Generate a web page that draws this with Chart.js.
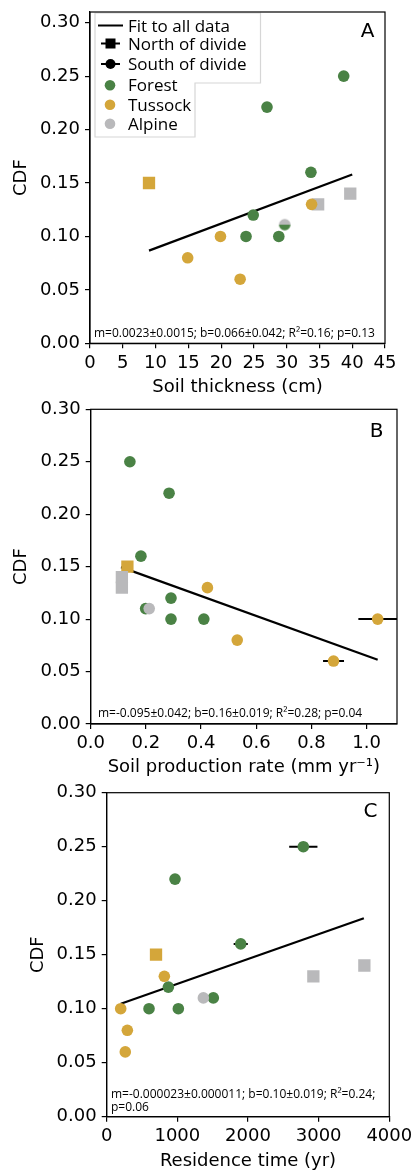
<!DOCTYPE html>
<html>
<head>
<meta charset="utf-8">
<title>CDF vs soil properties</title>
<script src="https://cdn.jsdelivr.net/npm/chart.js@4.4.1/dist/chart.umd.min.js"></script>
<style>
  html, body { margin: 0; padding: 0; background: #ffffff; }
  #wrap { position: relative; width: 414px; height: 1172px; overflow: hidden; }
  canvas { position: absolute; left: 0; display: block; }
</style>
</head>
<body>
<div id="wrap">
  <canvas id="panelA" width="414" height="400" style="top:0px"></canvas>
  <canvas id="panelB" width="414" height="390" style="top:395px"></canvas>
  <canvas id="panelC" width="414" height="392" style="top:780px"></canvas>
</div>
<script>
// ---------- Panel A: soil thickness (cm) ----------
const thickForestX      = [27.0, 38.7, 33.7, 24.9, 23.8, 28.8];
const thickForestY      = [0.221, 0.25, 0.16, 0.12, 0.10, 0.10];
const thickTussockX     = [14.9, 19.9, 22.9, 33.8];
const thickTussockY     = [0.08, 0.10, 0.06, 0.13];
const thickTussockNX    = [9.0];
const thickTussockNY    = [0.15];
const thickAlpineNX     = [34.8, 39.7];
const thickAlpineNY     = [0.13, 0.14];
const thickMixedX       = [29.7];      // forest / alpine site
const thickMixedY       = [0.111];
const thickFit          = [0.0023, 0.066];   // slope, intercept
const thickFitRange     = [9, 40];
const thickTicksX       = [0, 5, 10, 15, 20, 25, 30, 35, 40, 45];

// ---------- Panel B: soil production rate (mm/yr) ----------
const prodForestX       = [0.142, 0.284, 0.182, 0.291, 0.291, 0.410, 0.199];
const prodForestY       = [0.25, 0.22, 0.16, 0.12, 0.10, 0.10, 0.11];
const prodTussockX      = [0.423, 0.531, 0.880, 1.040];
const prodTussockY      = [0.13, 0.08, 0.06, 0.10];
const prodTussockErr    = [0, 0, 0.038, 0.07];
const prodTussockNX     = [0.133];
const prodTussockNY     = [0.15];
const prodAlpineNX      = [0.113, 0.113];
const prodAlpineNY      = [0.14, 0.13];
const prodAlpineX       = [0.212];
const prodAlpineY       = [0.11];
const prodFit           = [-0.095, 0.16];
const prodFitRange      = [0.11, 1.04];
const prodTicksX        = [0.0, 0.2, 0.4, 0.6, 0.8, 1.0];

// ---------- Panel C: residence time (yr) ----------
const resForestX        = [967, 2783, 1897, 873, 599, 1014, 1509];
const resForestY        = [0.22, 0.25, 0.16, 0.12, 0.10, 0.10, 0.11];
const resForestErr      = [0, 200, 100, 0, 0, 0, 0];
const resTussockX       = [198, 292, 263, 816];
const resTussockY       = [0.10, 0.08, 0.06, 0.13];
const resTussockNX      = [698];
const resTussockNY      = [0.15];
const resAlpineX        = [1368];
const resAlpineY        = [0.11];
const resAlpineNX       = [2925, 3647];
const resAlpineNY       = [0.13, 0.14];
const resFit            = [0.000023, 0.10];
const resFitRange       = [200, 3640];
const resTicksX         = [0, 1000, 2000, 3000, 4000];

const cdfTicks          = [0.00, 0.05, 0.10, 0.15, 0.20, 0.25, 0.30];

const fitTextA = ['m=0.0023\u00b10.0015; b=0.066\u00b10.042; R\u00b2=0.16; p=0.13'];
const fitTextB = ['m=-0.095\u00b10.042; b=0.16\u00b10.019; R\u00b2=0.28; p=0.04'];
const fitTextC = ['m=-0.000023\u00b10.000011; b=0.10\u00b10.019; R\u00b2=0.24;', 'p=0.06'];

const legendEntries = ['Fit to all data', 'North of divide', 'South of divide', 'Forest', 'Tussock', 'Alpine'];

// ---------- styling ----------
const GREEN = '#4a8245';
const GOLD  = '#d4a63a';
const GREY  = '#b9b9bb';
const TICK_FONT = { family: 'DejaVu Sans', size: 18 };
const LABEL_FONT = 'DejaVu Sans';
const NOTE_FONT = 'Open Sans';
const CIRCLE_R = 5.8;
const SQUARE_R = 8.7;   // rect pointStyle: side = r * sqrt(2)

function pts(xs, ys) { return xs.map((x, i) => ({ x: x, y: ys[i] })); }

function circles(xs, ys, color, err) {
  return { data: pts(xs, ys), pointStyle: 'circle', pointRadius: CIRCLE_R,
           backgroundColor: color, borderWidth: 0, xerr: err, order: 2 };
}
function squares(xs, ys, color) {
  return { data: pts(xs, ys), pointStyle: 'rect', pointRadius: SQUARE_R,
           backgroundColor: color, borderWidth: 0, order: 3 };
}
function fitLine(coef, range) {
  const data = range.map(x => ({ x: x, y: coef[0] * x + coef[1] }));
  return { type: 'line', data: data, borderColor: '#000', borderWidth: 2.2,
           pointRadius: 0, fill: false, order: 10 };
}

// Circle marker split horizontally: upper half / lower half colours
function splitMarker(r, topColor, bottomColor) {
  const c = document.createElement('canvas');
  const s = Math.ceil(2 * r + 2);
  c.width = s; c.height = s;
  const g = c.getContext('2d');
  const m = s / 2;
  g.fillStyle = topColor;
  g.beginPath(); g.arc(m, m, r, Math.PI, 2 * Math.PI); g.closePath(); g.fill();
  g.fillStyle = bottomColor;
  g.beginPath(); g.arc(m, m, r, 0, Math.PI); g.closePath(); g.fill();
  return c;
}

// Horizontal error bars drawn beneath the markers
const errorBarPlugin = {
  id: 'xErrorBars',
  beforeDatasetsDraw(chart) {
    const ctx = chart.ctx, area = chart.chartArea;
    const xs = chart.scales.x, ys = chart.scales.y;
    ctx.save();
    ctx.beginPath();
    ctx.rect(area.left, area.top, area.right - area.left, area.bottom - area.top);
    ctx.clip();
    ctx.strokeStyle = '#000';
    ctx.lineWidth = 2;
    chart.data.datasets.forEach(ds => {
      if (!ds.xerr) return;
      ds.data.forEach((p, i) => {
        const e = ds.xerr[i];
        if (!e) return;
        const y = ys.getPixelForValue(p.y);
        ctx.beginPath();
        ctx.moveTo(xs.getPixelForValue(p.x - e), y);
        ctx.lineTo(xs.getPixelForValue(p.x + e), y);
        ctx.stroke();
      });
    });
    ctx.restore();
  }
};

// Axes frame, panel letter and fit statistics
const decorPlugin = {
  id: 'decor',
  afterDraw(chart, args, opts) {
    const ctx = chart.ctx, a = chart.chartArea;
    ctx.save();
    ctx.strokeStyle = '#000';
    ctx.lineWidth = 1.2;
    ctx.strokeRect(a.left, a.top, a.right - a.left, a.bottom - a.top);

    ctx.fillStyle = '#000';
    ctx.font = '20px "' + LABEL_FONT + '"';
    ctx.textAlign = 'center';
    ctx.textBaseline = 'alphabetic';
    ctx.fillText(opts.letter, opts.letterX, opts.letterY);

    ctx.font = '12px "' + NOTE_FONT + '"';
    ctx.textAlign = 'left';
    opts.note.forEach((line, i) => {
      ctx.fillText(line, opts.noteX, opts.noteY + i * 12.7);
    });
    ctx.restore();
  }
};

// Combined legend box (fit line, divide side, vegetation)
const legendPlugin = {
  id: 'comboLegend',
  afterDatasetsDraw(chart, args, opts) {
    if (!opts.show) return;
    const ctx = chart.ctx;
    ctx.save();
    const L = 95, T = 13, R1 = 260.5, B1 = 83, R2 = 195, B2 = 137;
    ctx.beginPath();
    ctx.moveTo(L, T); ctx.lineTo(R1, T); ctx.lineTo(R1, B1); ctx.lineTo(R2, B1);
    ctx.lineTo(R2, B2); ctx.lineTo(L, B2); ctx.closePath();
    ctx.fillStyle = 'rgba(255,255,255,0.9)';
    ctx.fill();
    ctx.strokeStyle = '#d6d6d6';
    ctx.lineWidth = 1.2;
    ctx.stroke();

    const rowsY = [25.5, 43.5, 64, 85.3, 104.7, 123.7];
    const hx = 110.5;
    ctx.strokeStyle = '#000';
    ctx.fillStyle = '#000';
    ctx.lineWidth = 2;
    // fit line handle
    ctx.beginPath(); ctx.moveTo(98, rowsY[0]); ctx.lineTo(123, rowsY[0]); ctx.stroke();
    // north: square with bar
    ctx.beginPath(); ctx.moveTo(101, rowsY[1]); ctx.lineTo(120, rowsY[1]); ctx.stroke();
    ctx.fillRect(hx - 5, rowsY[1] - 5, 10, 10);
    // south: circle with bar
    ctx.beginPath(); ctx.moveTo(101, rowsY[2]); ctx.lineTo(120, rowsY[2]); ctx.stroke();
    ctx.beginPath(); ctx.arc(hx, rowsY[2], 5, 0, 2 * Math.PI); ctx.fill();
    // vegetation colours
    [GREEN, GOLD, GREY].forEach((c, i) => {
      ctx.fillStyle = c;
      ctx.beginPath(); ctx.arc(110, rowsY[3 + i], 5.3, 0, 2 * Math.PI); ctx.fill();
    });

    ctx.fillStyle = '#000';
    ctx.font = '17px "' + NOTE_FONT + '"';
    ctx.textAlign = 'left';
    ctx.textBaseline = 'alphabetic';
    legendEntries.forEach((t, i) => {
      ctx.fillText(t, 128, rowsY[i] + 6.1);
    });
    ctx.restore();
  }
};

function makePanel(cfg) {
  const canvas = document.getElementById(cfg.id);
  const W = canvas.width, H = canvas.height;
  const tickFmt = cfg.xDecimals;
  return new Chart(canvas, {
    type: 'scatter',
    data: { datasets: cfg.datasets },
    options: {
      responsive: false,
      animation: false,
      events: [],
      layout: { padding: { left: 0, top: cfg.area.top, right: W - cfg.area.right, bottom: H - cfg.xBottom } },
      plugins: {
        legend: { display: false },
        tooltip: { enabled: false },
        decor: cfg.decor,
        comboLegend: { show: !!cfg.legend }
      },
      scales: {
        x: {
          type: 'linear', position: 'bottom', min: cfg.xMin, max: cfg.xMax,
          afterBuildTicks: s => { s.ticks = cfg.xTicks.map(v => ({ value: v })); },
          afterFit: s => {
            s.height = cfg.xBottom - cfg.area.bottom;
            s.paddingLeft = 0; s.paddingRight = 0; s.paddingTop = 0; s.paddingBottom = 0;
          },
          ticks: {
            autoSkip: false, maxRotation: 0, minRotation: 0, padding: 4,
            color: '#000', font: TICK_FONT,
            callback: v => Number(v).toFixed(tickFmt)
          },
          grid: { drawOnChartArea: false, drawTicks: true, tickLength: 5, color: '#000', lineWidth: 1.2 },
          border: { display: true, color: '#000', width: 1.2 },
          title: { display: true, text: cfg.xTitle, color: '#000',
                   font: { family: LABEL_FONT, size: 18 }, padding: { top: 0, bottom: 0 } }
        },
        y: {
          type: 'linear', position: 'left', min: 0, max: cfg.yMax,
          afterBuildTicks: s => { s.ticks = cdfTicks.map(v => ({ value: v })); },
          afterFit: s => {
            s.width = cfg.area.left;
            s.paddingLeft = 0; s.paddingRight = 0; s.paddingTop = 0; s.paddingBottom = 0;
          },
          ticks: {
            autoSkip: false, padding: 5, color: '#000', font: TICK_FONT,
            callback: v => Number(v).toFixed(2)
          },
          grid: { drawOnChartArea: false, drawTicks: true, tickLength: 5, color: '#000', lineWidth: 1.2 },
          border: { display: true, color: '#000', width: 1.2 },
          title: { display: true, text: 'CDF', color: '#000',
                   font: { family: LABEL_FONT, size: 18 }, padding: { top: cfg.yTitlePad, bottom: 0 } }
        }
      }
    },
    plugins: [errorBarPlugin, legendPlugin, decorPlugin]
  });
}

const mixed = {
  data: pts(thickMixedX, thickMixedY),
  pointStyle: splitMarker(CIRCLE_R, GREY, GREEN),
  pointRadius: CIRCLE_R, order: 1
};

makePanel({
  id: 'panelA',
  area: { left: 90, top: 12, right: 385, bottom: 343.3 },
  xBottom: 398, xMin: 0, xMax: 45, yMax: 0.31, xTicks: thickTicksX, xDecimals: 0,
  xTitle: 'Soil thickness (cm)', yTitlePad: 10.5, legend: true,
  decor: { letter: 'A', letterX: 367.5, letterY: 36.5, note: fitTextA, noteX: 94, noteY: 336.5 },
  datasets: [
    fitLine(thickFit, thickFitRange),
    squares(thickAlpineNX, thickAlpineNY, GREY),
    squares(thickTussockNX, thickTussockNY, GOLD),
    circles(thickForestX, thickForestY, GREEN),
    circles(thickTussockX, thickTussockY, GOLD),
    mixed
  ]
});

makePanel({
  id: 'panelB',
  area: { left: 90.7, top: 14.3, right: 397, bottom: 329 },
  xBottom: 383, xMin: 0, xMax: 1.11, yMax: 0.30, xTicks: prodTicksX, xDecimals: 1,
  xTitle: 'Soil production rate (mm yr\u207b\u00b9)', yTitlePad: 11, legend: false,
  decor: { letter: 'B', letterX: 376.5, letterY: 42.3, note: fitTextB, noteX: 98, noteY: 321.5 },
  datasets: [
    fitLine(prodFit, prodFitRange),
    squares(prodAlpineNX, prodAlpineNY, GREY),
    squares(prodTussockNX, prodTussockNY, GOLD),
    circles(prodForestX, prodForestY, GREEN),
    Object.assign(circles(prodAlpineX, prodAlpineY, GREY), { order: 1 }),
    Object.assign(circles(prodTussockX, prodTussockY, GOLD, prodTussockErr), { order: 1 })
  ]
});

makePanel({
  id: 'panelC',
  area: { left: 106.7, top: 12.7, right: 389.3, bottom: 336.7 },
  xBottom: 392, xMin: 0, xMax: 4000, yMax: 0.30, xTicks: resTicksX, xDecimals: 0,
  xTitle: 'Residence time (yr)', yTitlePad: 27.5, legend: false,
  decor: { letter: 'C', letterX: 370.5, letterY: 37.3, note: fitTextC, noteX: 111, noteY: 318.3 },
  datasets: [
    fitLine(resFit, resFitRange),
    squares(resAlpineNX, resAlpineNY, GREY),
    squares(resTussockNX, resTussockNY, GOLD),
    circles(resForestX, resForestY, GREEN, resForestErr),
    Object.assign(circles(resAlpineX, resAlpineY, GREY), { order: 1 }),
    Object.assign(circles(resTussockX, resTussockY, GOLD), { order: 1 })
  ]
});
</script>
</body>
</html>
